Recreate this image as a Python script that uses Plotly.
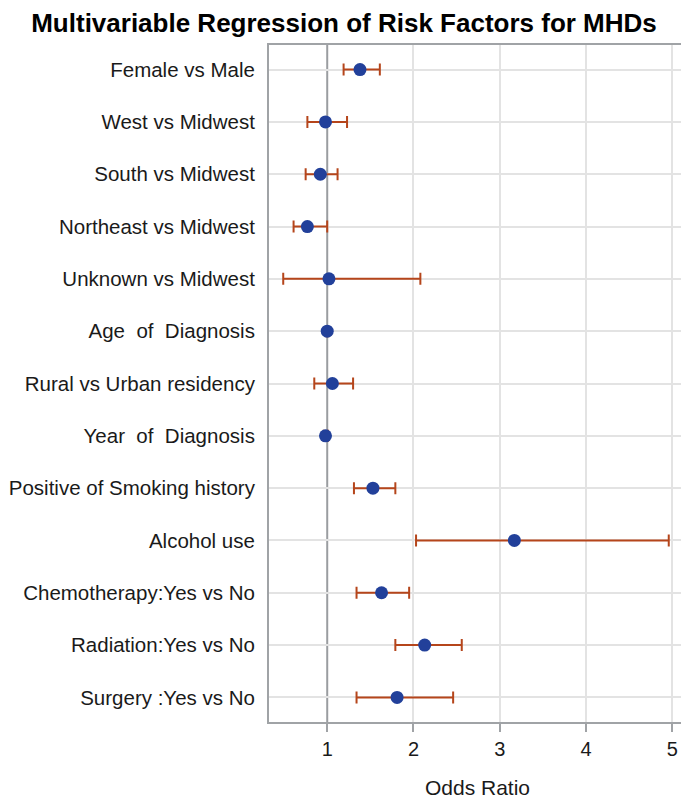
import plotly.graph_objects as go

categories = [
    "Female vs Male", "West vs Midwest", "South vs Midwest", "Northeast vs Midwest",
    "Unknown vs Midwest", "Age  of  Diagnosis", "Rural vs Urban residency",
    "Year  of  Diagnosis", "Positive of Smoking history", "Alcohol use",
    "Chemotherapy:Yes vs No", "Radiation:Yes vs No", "Surgery :Yes vs No",
]
odds_ratio = [1.38, 0.98, 0.92, 0.77, 1.02, 1.00, 1.06, 0.98, 1.53, 3.17, 1.63, 2.13, 1.81]
ci_lower = [1.19, 0.77, 0.75, 0.61, 0.49, 0.99, 0.85, 0.96, 1.31, 2.03, 1.34, 1.79, 1.34]
ci_upper = [1.61, 1.23, 1.12, 1.00, 2.08, 1.01, 1.30, 1.01, 1.79, 4.96, 1.95, 2.56, 2.46]
x_ticks = [1, 2, 3, 4, 5]
reference_or = 1

err_plus = [u - o for u, o in zip(ci_upper, odds_ratio)]
err_minus = [o - l for o, l in zip(odds_ratio, ci_lower)]

fig = go.Figure()
fig.add_trace(go.Scatter(
    x=odds_ratio, y=categories, mode="markers",
    marker=dict(color="#22409A", size=13),
    error_x=dict(type="data", symmetric=False, array=err_plus, arrayminus=err_minus,
                 color="#B5451B", thickness=2, width=6),
    showlegend=False,
))
fig.add_vline(x=reference_or, line=dict(color="#9A9DA0", width=2), layer="below")

fig.update_layout(
    width=681, height=792,
    margin=dict(l=261, r=3, t=37, b=78),
    paper_bgcolor="white", plot_bgcolor="white",
    font=dict(family="Liberation Sans, Arial, sans-serif", color="#1a1a1a"),
    title=dict(text="<b>Multivariable Regression of Risk Factors for MHDs</b>",
               x=0.4934, xanchor="center", xref="container", y=0.981, yanchor="middle",
               font=dict(size=26, color="#000000")),
    xaxis=dict(
        range=[0.325, 5.16], tickvals=x_ticks, ticktext=[str(t) for t in x_ticks],
        showgrid=False,
        minor=dict(tickvals=[t for t in x_ticks if t != reference_or], showgrid=True,
                   gridcolor="#E3E3E3", gridwidth=2, ticks=""),
        showline=True, linecolor="#A0A3A6", linewidth=2, mirror=True,
        ticks="outside", ticklen=8, tickcolor="#A0A3A6", tickwidth=2,
        tickfont=dict(size=20), zeroline=False, automargin=False,
        title=dict(text="Odds Ratio", font=dict(size=21), standoff=21),
    ),
    yaxis=dict(
        categoryorder="array", categoryarray=categories,
        range=[12.47, -0.47],
        showgrid=True, gridcolor="#E3E3E3", gridwidth=2,
        showline=True, linecolor="#A0A3A6", linewidth=2, mirror=True,
        ticks="", tickfont=dict(size=20.5), ticklabelstandoff=8, automargin=False,
    ),
)

fig.write_html("out.html")
